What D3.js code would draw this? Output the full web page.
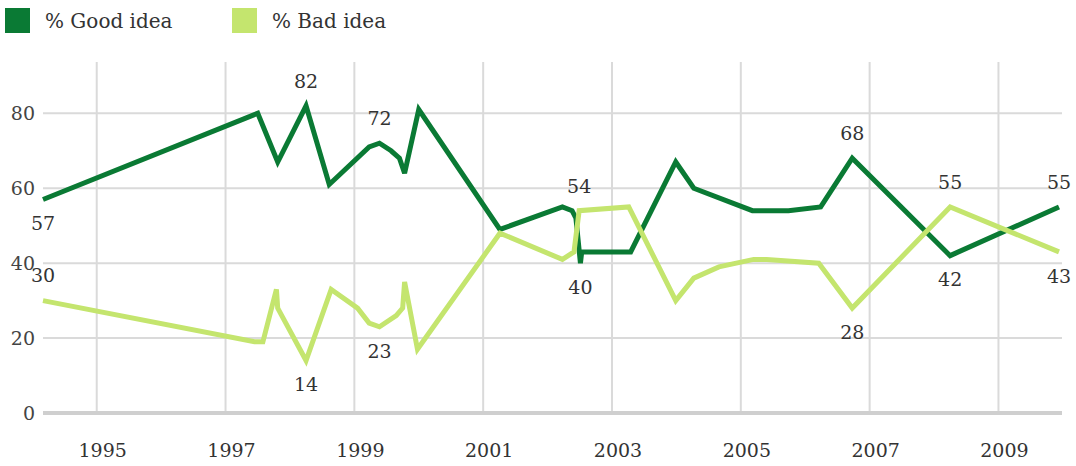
<!DOCTYPE html>
<html>
<head>
<meta charset="utf-8">
<script src="https://cdn.jsdelivr.net/npm/d3@7"></script>
<style>
  html, body { margin: 0; padding: 0; background: #fff; }
  svg { display: block; font-family: "DejaVu Serif", Georgia, serif; }
</style>
</head>
<body>
<svg id="chart" width="1076" height="466"></svg>
<script>
// Survey dates (decimal years) and percentages for each answer
const goodDates  = [1994.166, 1997.50, 1997.81, 1998.25, 1998.61, 1999.23, 1999.39, 1999.57, 1999.70, 1999.78,
                    2000.00, 2001.26, 2002.23, 2002.38, 2002.44, 2002.51, 2002.53, 2003.29, 2003.99, 2004.27,
                    2005.18, 2005.74, 2006.24, 2006.73, 2008.25, 2009.94];
const goodValues = [57, 80, 67, 82, 61, 71, 72, 70, 68, 64,
                    81, 49, 55, 54, 52, 40, 43, 43, 67, 60,
                    54, 54, 55, 68, 42, 55];

const badDates   = [1994.166, 1997.45, 1997.58, 1997.79, 1997.81, 1998.25, 1998.64, 1999.05, 1999.23, 1999.39,
                    1999.65, 1999.75, 1999.78, 1999.98, 2001.26, 2002.23, 2002.41, 2002.49, 2003.26, 2003.99,
                    2004.27, 2004.66, 2005.20, 2005.40, 2006.21, 2006.73, 2008.25, 2009.94];
const badValues  = [30, 19, 19, 33, 28, 14, 33, 28, 24, 23,
                    26, 28, 35, 17, 48, 41, 43, 54, 55, 30,
                    36, 39, 41, 41, 40, 28, 55, 43];

// Points that carry a value label, and whether the label sits above or below
const goodLabelIndex = [0, 3, 6, 15, 23, 24, 25];
const goodLabelSide  = ["below", "above", "above", "below", "above", "below", "above"];
const badLabelIndex  = [0, 5, 9, 17, 25, 26, 27];
const badLabelSide   = ["above", "below", "below", "above", "below", "above", "below"];

const yTicks    = [0, 20, 40, 60, 80];
const yearTicks = [1995, 1997, 1999, 2001, 2003, 2005, 2007, 2009];
const seriesNames  = ["% Good idea", "% Bad idea"];
const seriesColors = ["#0a7a34", "#c4e56e"];

const svg = d3.select("#chart");

const plotLeft = 43, plotRight = 1062, plotTop = 62;

const x = d3.scaleLinear()
  .domain([goodDates[0], goodDates[goodDates.length - 1]])
  .range([43, 1059]);

const y = d3.scaleLinear()
  .domain([0, 80])
  .range([413, 113.3]);

// Horizontal gridlines
svg.append("g")
  .selectAll("line")
  .data(yTicks.filter(d => d !== 0))
  .join("line")
  .attr("x1", plotLeft).attr("x2", plotRight)
  .attr("y1", d => y(d)).attr("y2", d => y(d))
  .attr("stroke", "#dadada").attr("stroke-width", 2);

// Vertical gridlines at the labelled years
svg.append("g")
  .selectAll("line")
  .data(yearTicks)
  .join("line")
  .attr("x1", d => x(d)).attr("x2", d => x(d))
  .attr("y1", plotTop).attr("y2", y(0))
  .attr("stroke", "#dadada").attr("stroke-width", 2);

// Zero baseline
svg.append("line")
  .attr("x1", plotLeft).attr("x2", plotRight)
  .attr("y1", y(0)).attr("y2", y(0))
  .attr("stroke", "#cfcfcf").attr("stroke-width", 4);

// Y axis labels
svg.append("g")
  .selectAll("text")
  .data(yTicks)
  .join("text")
  .attr("x", 35)
  .attr("y", d => y(d))
  .attr("dy", "0.36em")
  .attr("text-anchor", "end")
  .attr("font-size", 19)
  .attr("fill", "#444")
  .text(d => d);

// X axis labels
svg.append("g")
  .selectAll("text")
  .data(yearTicks)
  .join("text")
  .attr("x", d => x(d) + 6)
  .attr("y", 457)
  .attr("text-anchor", "middle")
  .attr("font-size", 19)
  .attr("fill", "#333")
  .text(d => d);

const line = d3.line()
  .x(d => x(d[0]))
  .y(d => y(d[1]));

const series = [
  { dates: goodDates, values: goodValues, idx: goodLabelIndex, side: goodLabelSide, color: seriesColors[0] },
  { dates: badDates,  values: badValues,  idx: badLabelIndex,  side: badLabelSide,  color: seriesColors[1] }
];

series.forEach(s => {
  const pts = s.dates.map((d, i) => [d, s.values[i]]);
  svg.append("path")
    .datum(pts)
    .attr("d", line)
    .attr("fill", "none")
    .attr("stroke", s.color)
    .attr("stroke-width", 5)
    .attr("stroke-linejoin", "miter")
    .attr("stroke-miterlimit", 3);
});

// Value labels
series.forEach(s => {
  svg.append("g")
    .selectAll("text")
    .data(s.idx.map((i, k) => ({ date: s.dates[i], value: s.values[i], side: s.side[k] })))
    .join("text")
    .attr("x", d => x(d.date))
    .attr("y", d => y(d.value) + (d.side === "above" ? -25 : 24))
    .attr("dy", "0.36em")
    .attr("text-anchor", "middle")
    .attr("font-size", 19)
    .attr("fill", "#333")
    .text(d => d.value);
});

// Legend
const legend = svg.append("g")
  .selectAll("g")
  .data(seriesNames)
  .join("g")
  .attr("transform", (d, i) => `translate(${i === 0 ? 5 : 232},8)`);

legend.append("rect")
  .attr("width", 25).attr("height", 25)
  .attr("fill", (d, i) => seriesColors[i]);

legend.append("text")
  .attr("x", 40)
  .attr("y", 20)
  .attr("font-size", 20)
  .attr("fill", "#333")
  .text(d => d);
</script>
</body>
</html>
